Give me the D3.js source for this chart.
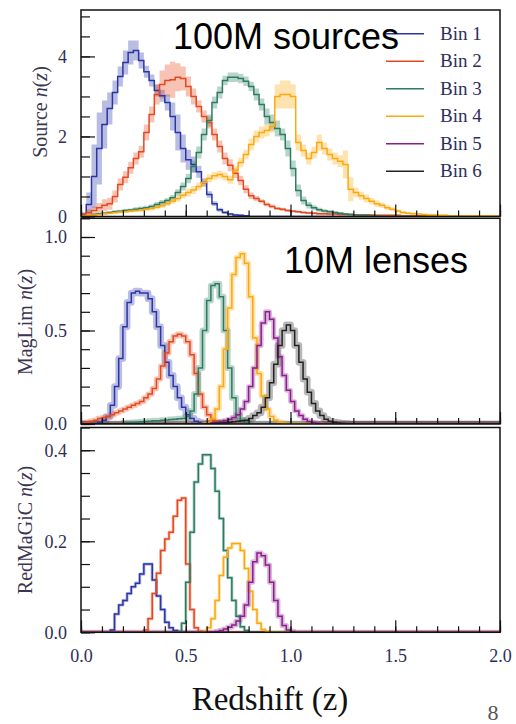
<!DOCTYPE html>
<html>
<head>
<meta charset="utf-8">
<script src="https://cdn.jsdelivr.net/npm/d3@7"></script>
<style>
    body { margin: 0; background: #fff; }
    svg { display: block; }
</style>
</head>
<body>
<svg id="chart" width="516" height="724"></svg>
<script>
// redshift axis shared by the three panels
const zMinorTicks = [0, 0.1, 0.2, 0.3, 0.4, 0.5, 0.6, 0.7, 0.8, 0.9, 1.0, 1.1, 1.2, 1.3, 1.4, 1.5, 1.6, 1.7, 1.8, 1.9, 2.0];
const zMajorTicks = [0, 0.5, 1.0, 1.5, 2.0];
const binNames = ["Bin 1", "Bin 2", "Bin 3", "Bin 4", "Bin 5", "Bin 6"];

// source n(z), bins of 0.025 starting at z = 0
const sourceStep = 0.025;
const source1 = [0.05, 0.3, 1.0, 1.7, 2.3, 2.7, 3.1, 3.5, 3.85, 4.1,
    4.15, 3.9, 3.62, 3.4, 3.15, 3.02, 2.85, 2.5, 2.1, 1.7,
    1.42, 1.3, 1.12, 0.85, 0.55, 0.32, 0.17, 0.1, 0.06, 0.04,
    0.03, 0.02];
const source1Err = [0.05, 0.3, 0.8, 0.9, 0.6, 0.4, 0.3, 0.25, 0.3, 0.3,
    0.25, 0.2, 0.15, 0.15, 0.15, 0.15, 0.2, 0.35, 0.45, 0.35,
    0.25, 0.2, 0.15, 0.1, 0.08, 0.06, 0.05, 0.04, 0.03, 0.03,
    0.02, 0.02];
const source2 = [0.05, 0.1, 0.15, 0.22, 0.28, 0.32, 0.5, 0.8, 0.98, 1.22,
    1.45, 1.62, 2.1, 2.55, 3.05, 3.3, 3.4, 3.42, 3.48, 3.45,
    3.25, 3.0, 2.75, 2.5, 2.35, 2.05, 1.75, 1.45, 1.28, 1.08,
    0.9, 0.68, 0.52, 0.45, 0.38, 0.3, 0.25, 0.2, 0.18, 0.15,
    0.13, 0.12, 0.1, 0.09, 0.08, 0.07, 0.07, 0.06, 0.06, 0.05,
    0.05, 0.05, 0.04, 0.04, 0.04, 0.04, 0.03, 0.03, 0.03, 0.03,
    0.03, 0.02, 0.02, 0.02, 0.02, 0.02, 0.02, 0.01, 0.01];
const source2Err = [0.05, 0.08, 0.1, 0.12, 0.15, 0.15, 0.15, 0.15, 0.15, 0.15,
    0.15, 0.15, 0.2, 0.2, 0.25, 0.35, 0.4, 0.45, 0.35, 0.3,
    0.25, 0.2, 0.15, 0.15, 0.15, 0.15, 0.15, 0.15, 0.15, 0.12,
    0.12, 0.1, 0.08, 0.06, 0.05, 0.05, 0.05, 0.04, 0.04, 0.04,
    0.03, 0.03, 0.03, 0.03, 0.03, 0.03, 0.03, 0.03, 0.02, 0.02,
    0.02, 0.02, 0.02, 0.02, 0.02, 0.02, 0.02, 0.02, 0.02, 0.02,
    0.02, 0.01, 0.01, 0.01, 0.01, 0.01, 0.01, 0.01, 0.01];
const source3 = [0, 0.02, 0.05, 0.07, 0.08, 0.1, 0.12, 0.13, 0.15, 0.16,
    0.18, 0.2, 0.22, 0.25, 0.3, 0.35, 0.4, 0.47, 0.6, 0.75,
    0.95, 1.25, 1.6, 2.05, 2.4, 2.85, 3.1, 3.4, 3.48, 3.48,
    3.45, 3.38, 3.25, 3.05, 2.8, 2.5, 2.35, 2.2, 2.05, 1.7,
    1.2, 0.65, 0.4, 0.28, 0.22, 0.17, 0.14, 0.12, 0.1, 0.08,
    0.06, 0.05, 0.04, 0.03, 0.03, 0.02, 0.02];
const source3Err = [0.01, 0.02, 0.03, 0.03, 0.03, 0.03, 0.04, 0.04, 0.04, 0.04,
    0.05, 0.05, 0.05, 0.05, 0.06, 0.06, 0.06, 0.07, 0.08, 0.1,
    0.12, 0.15, 0.15, 0.15, 0.15, 0.15, 0.15, 0.12, 0.12, 0.12,
    0.12, 0.12, 0.12, 0.15, 0.15, 0.2, 0.2, 0.2, 0.15, 0.2,
    0.2, 0.15, 0.1, 0.08, 0.06, 0.05, 0.04, 0.04, 0.03, 0.03,
    0.03, 0.02, 0.02, 0.02, 0.02, 0.01, 0.01];
const source4 = [0.01, 0.03, 0.04, 0.05, 0.07, 0.08, 0.1, 0.11, 0.12, 0.14,
    0.15, 0.16, 0.18, 0.2, 0.23, 0.27, 0.32, 0.38, 0.45, 0.53,
    0.6, 0.66, 0.75, 0.85, 0.95, 1.02, 1.05, 1.0, 0.92, 1.15,
    1.35, 1.55, 1.8, 2.0, 2.1, 2.15, 2.25, 3.0, 3.05, 3.05,
    3.0, 1.85, 1.65, 1.45, 1.6, 1.85, 1.7, 1.55, 1.45, 1.38,
    1.3, 0.68, 0.6, 0.52, 0.45, 0.38, 0.32, 0.28, 0.22, 0.18,
    0.14, 0.1, 0.08, 0.07, 0.06, 0.05, 0.04, 0.04, 0.03, 0.03,
    0.02, 0.02, 0.02, 0.02, 0.02, 0.02, 0.02, 0.02, 0.02, 0.01, 0.01];
const source4Err = [0.01, 0.02, 0.02, 0.02, 0.03, 0.03, 0.03, 0.03, 0.04, 0.04,
    0.04, 0.04, 0.05, 0.05, 0.05, 0.06, 0.06, 0.07, 0.08, 0.08,
    0.1, 0.1, 0.1, 0.1, 0.1, 0.1, 0.1, 0.1, 0.1, 0.12,
    0.12, 0.12, 0.15, 0.15, 0.15, 0.15, 0.15, 0.3, 0.35, 0.35,
    0.3, 0.2, 0.15, 0.15, 0.15, 0.2, 0.15, 0.15, 0.15, 0.15,
    0.35, 0.3, 0.12, 0.1, 0.1, 0.08, 0.08, 0.07, 0.06, 0.05,
    0.04, 0.04, 0.03, 0.03, 0.03, 0.02, 0.02, 0.02, 0.02, 0.02,
    0.01, 0.01, 0.01, 0.01, 0.01, 0.01, 0.01, 0.01, 0.01, 0.01, 0.01];

// MagLim lens n(z), bins of 0.02
const lensStep = 0.02;
const maglimStart = [0.08, 0, 0.2, 0.58, 0.6, 0.6];
const maglim1 = [0.01, 0.02, 0.04, 0.1, 0.2, 0.35, 0.52, 0.65, 0.70, 0.71,
    0.70, 0.70, 0.67, 0.60, 0.52, 0.42, 0.33, 0.26, 0.2, 0.14,
    0.09, 0.05, 0.03, 0.015, 0.008, 0.004, 0.002];
const maglim2 = [0.005, 0.01, 0.015, 0.02, 0.03, 0.035, 0.04, 0.05, 0.06, 0.07,
    0.08, 0.09, 0.1, 0.11, 0.12, 0.14, 0.16, 0.19, 0.24, 0.31,
    0.38, 0.44, 0.47, 0.48, 0.47, 0.44, 0.37, 0.27, 0.16, 0.09,
    0.05, 0.02, 0.01, 0.005];
const maglim3 = [0.005, 0.007, 0.008, 0.01, 0.012, 0.013, 0.015, 0.017, 0.018, 0.02,
    0.022, 0.024, 0.026, 0.028, 0.03, 0.04, 0.07, 0.16, 0.3, 0.5,
    0.66, 0.74, 0.75, 0.68, 0.5, 0.3, 0.14, 0.05, 0.02, 0.008, 0.003];
const maglim4 = [0.005, 0.01, 0.03, 0.08, 0.2, 0.4, 0.62, 0.8, 0.89, 0.91,
    0.86, 0.68, 0.46, 0.27, 0.15, 0.08, 0.04, 0.02, 0.01, 0.005];
const maglim5 = [0.003, 0.005, 0.008, 0.012, 0.018, 0.025, 0.035, 0.05, 0.08, 0.12,
    0.2, 0.3, 0.42, 0.54, 0.6, 0.56, 0.46, 0.36, 0.26, 0.18,
    0.12, 0.07, 0.045, 0.025, 0.014, 0.008, 0.004];
const maglim6 = [0.002, 0.003, 0.004, 0.005, 0.007, 0.009, 0.012, 0.015, 0.018, 0.02,
    0.03, 0.045, 0.06, 0.09, 0.14, 0.22, 0.32, 0.42, 0.5, 0.53,
    0.5, 0.42, 0.33, 0.24, 0.17, 0.11, 0.07, 0.045, 0.025, 0.015,
    0.01, 0.006, 0.003, 0.002];
const maglimErr = [0.018, 0.014, 0.016, 0.014, 0.013, 0.018];

// redMaGiC lens n(z), bins of 0.02
const redmagicStart = [0.14, 0.3, 0.46, 0.58, 0.64];
const redmagic1 = [0.005, 0.04, 0.06, 0.07, 0.085, 0.1, 0.108, 0.128, 0.15, 0.15,
    0.115, 0.08, 0.05, 0.022, 0.01, 0.004, 0.001];
const redmagic2 = [0.005, 0.03, 0.085, 0.13, 0.18, 0.205, 0.22, 0.255, 0.29, 0.295,
    0.15, 0.05, 0.01, 0.002];
const redmagic3 = [0.002, 0.02, 0.11, 0.22, 0.33, 0.37, 0.39, 0.39, 0.36, 0.31,
    0.25, 0.18, 0.12, 0.07, 0.035, 0.012, 0.004];
const redmagic4 = [0.002, 0.01, 0.03, 0.07, 0.125, 0.165, 0.185, 0.195, 0.195, 0.18,
    0.14, 0.09, 0.05, 0.02, 0.006, 0.002];
const redmagic5 = [0.002, 0.004, 0.007, 0.011, 0.016, 0.025, 0.035, 0.06, 0.11, 0.155,
    0.174, 0.168, 0.148, 0.11, 0.07, 0.035, 0.015, 0.005, 0.002];
const redmagicErr = [0.0035, 0.0035, 0.0035, 0.0035, 0.0055];

const sourceTicks = [0, 2, 4];
const maglimTicks = [0, 0.5, 1.0];
const redmagicTicks = [0, 0.2, 0.4];

const COLORS = ["#2a36a6", "#e5481f", "#2b7d5f", "#fca90e", "#8b1d8e", "#222222"];
const SERIF = "'Liberation Serif', 'DejaVu Serif', serif";
const SANS = "'Liberation Sans', Arial, sans-serif";
const TICK_COLOR = "#2e2e58";
const X0 = 81;
const X1 = 500;

const svg = d3.select("#chart");
const x = d3.scaleLinear().domain([0, 2]).range([X0, X1]);

const panels = [
    {
        key: "source", top: 10, bottom: 216.5, max: 5.16, minor: 0.5,
        ticks: sourceTicks, fmt: d3.format("d"), step: sourceStep,
        label: "Source", labelX: 47, labelY: 112, band: "area",
        series: [source1, source2, source3, source4].map((v, i) => ({
            vals: v, start: 0, err: [source1Err, source2Err, source3Err, source4Err][i], color: COLORS[i]
        }))
    },
    {
        key: "maglim", top: 218.3, bottom: 424, max: 1.1, minor: 0.1,
        ticks: maglimTicks, fmt: d3.format(".1f"), step: lensStep,
        label: "MagLim", labelX: 32, labelY: 322, band: "halo",
        series: [maglim1, maglim2, maglim3, maglim4, maglim5, maglim6].map((v, i) => ({
            vals: v, start: maglimStart[i], err: maglimErr[i], color: COLORS[i]
        }))
    },
    {
        key: "redmagic", top: 427.5, bottom: 632.3, max: 0.45, minor: 0.05,
        ticks: redmagicTicks, fmt: d3.format(".1f"), step: lensStep, showX: true,
        label: "RedMaGiC", labelX: 32, labelY: 530, band: "halo",
        series: [redmagic1, redmagic2, redmagic3, redmagic4, redmagic5].map((v, i) => ({
            vals: v, start: redmagicStart[i], err: redmagicErr[i], color: COLORS[i]
        }))
    }
];

let stepPoints = (s, step) => {
    const pts = [];
    if (s.start > 0) pts.push([0, 0, 0]);
    s.vals.forEach((v, i) => {
        pts.push([s.start + i * step, v, Array.isArray(s.err) ? s.err[i] : 0]);
    });
    pts.push([s.start + s.vals.length * step, 0, 0]);
    pts.push([2.05, 0, 0]);
    return pts;
};

function styleAxis(g) {
    g.select(".domain").remove();
    g.selectAll(".tick line").attr("stroke", "#111").attr("stroke-width", 1.2);
    g.selectAll("text")
        .attr("font-family", SERIF)
        .attr("font-size", 18)
        .attr("fill", TICK_COLOR);
}

function drawPanel(p) {
    const y = d3.scaleLinear().domain([0, p.max]).range([p.bottom, p.top]);
    const g = svg.append("g").attr("id", p.key);

    svg.append("clipPath").attr("id", `clip-${p.key}`)
        .append("rect")
        .attr("x", X0).attr("y", p.top)
        .attr("width", X1 - X0).attr("height", p.bottom - p.top);

    const plot = g.append("g").attr("clip-path", `url(#clip-${p.key})`);
    const line = d3.line()
        .x(d => x(d[0]))
        .y(d => y(d[1]))
        .curve(d3.curveStepAfter);
    const area = d3.area()
        .x(d => x(d[0]))
        .y0(d => y(Math.max(0, d[1] - d[2])))
        .y1(d => y(d[1] + d[2]))
        .curve(d3.curveStepAfter);

    // uncertainty bands first, lines on top
    p.series.forEach(s => {
        const pts = stepPoints(s, p.step);
        if (p.band === "area") {
            plot.append("path")
                .attr("d", area(pts))
                .attr("fill", s.color)
                .attr("fill-opacity", 0.33);
        } else {
            plot.append("path")
                .attr("d", line(pts))
                .attr("fill", "none")
                .attr("stroke", s.color)
                .attr("stroke-opacity", 0.32)
                .attr("stroke-linejoin", "round")
                .attr("stroke-width", 2 * (y(0) - y(s.err)));
        }
    });
    p.series.forEach(s => {
        plot.append("path")
            .attr("d", line(stepPoints(s, p.step)))
            .attr("fill", "none")
            .attr("stroke", s.color)
            .attr("stroke-width", 1.5);
    });

    // inward ticks
    const nMinor = Math.floor(p.max / p.minor + 1e-6);
    const yMinor = d3.range(0, nMinor + 1).map(i => i * p.minor);
    g.append("g").attr("transform", `translate(${X0},0)`)
        .call(d3.axisLeft(y).tickValues(yMinor).tickSize(-9).tickFormat(""))
        .call(styleAxis);
    g.append("g").attr("transform", `translate(${X0},0)`)
        .call(d3.axisLeft(y).tickValues(p.ticks).tickSizeInner(-14).tickSizeOuter(0)
            .tickPadding(14).tickFormat(p.fmt))
        .call(styleAxis);
    g.append("g").attr("transform", `translate(0,${p.bottom})`)
        .call(d3.axisBottom(x).tickValues(zMinorTicks).tickSize(-6).tickFormat(""))
        .call(styleAxis);
    g.append("g").attr("transform", `translate(0,${p.bottom})`)
        .call(d3.axisBottom(x).tickValues(zMajorTicks).tickSizeInner(-12).tickSizeOuter(0)
            .tickPadding(17).tickFormat(p.showX ? d3.format(".1f") : ""))
        .call(styleAxis);

    g.append("rect")
        .attr("x", X0).attr("y", p.top)
        .attr("width", X1 - X0).attr("height", p.bottom - p.top)
        .attr("fill", "none")
        .attr("stroke", "#111")
        .attr("stroke-width", 1.5);

    const lab = g.append("text")
        .attr("transform", `translate(${p.labelX},${p.labelY}) rotate(-90)`)
        .attr("text-anchor", "middle")
        .attr("font-family", SERIF)
        .attr("font-size", 20)
        .attr("fill", "#3a3552");
    lab.append("tspan").text(p.label + " ");
    lab.append("tspan").attr("font-style", "italic").text("n");
    lab.append("tspan").text("(");
    lab.append("tspan").attr("font-style", "italic").text("z");
    lab.append("tspan").text(")");
}

panels.forEach(drawPanel);

// legend in the source panel
const legend = svg.append("g").attr("id", "legend");
binNames.forEach((name, i) => {
    const cy = 33.7 + i * 27.5;
    legend.append("line")
        .attr("x1", 386).attr("x2", 424)
        .attr("y1", cy).attr("y2", cy)
        .attr("stroke", COLORS[i])
        .attr("stroke-width", 1.4);
    legend.append("text")
        .attr("x", 440).attr("y", cy + 6)
        .attr("font-family", SERIF)
        .attr("font-size", 19)
        .attr("fill", TICK_COLOR)
        .text(name);
});

svg.append("text")
    .attr("x", 173).attr("y", 49)
    .attr("font-family", SANS)
    .attr("font-size", 36)
    .attr("fill", "#000")
    .text("100M sources");

svg.append("text")
    .attr("x", 284).attr("y", 273)
    .attr("font-family", SANS)
    .attr("font-size", 36)
    .attr("fill", "#000")
    .text("10M lenses");

svg.append("text")
    .attr("x", 270).attr("y", 710)
    .attr("text-anchor", "middle")
    .attr("font-family", SERIF)
    .attr("font-size", 33)
    .attr("fill", "#111")
    .text("Redshift (z)");

svg.append("text")
    .attr("x", 493).attr("y", 720)
    .attr("text-anchor", "middle")
    .attr("font-family", SERIF)
    .attr("font-size", 22)
    .attr("fill", "#555")
    .text("8");
</script>
</body>
</html>
